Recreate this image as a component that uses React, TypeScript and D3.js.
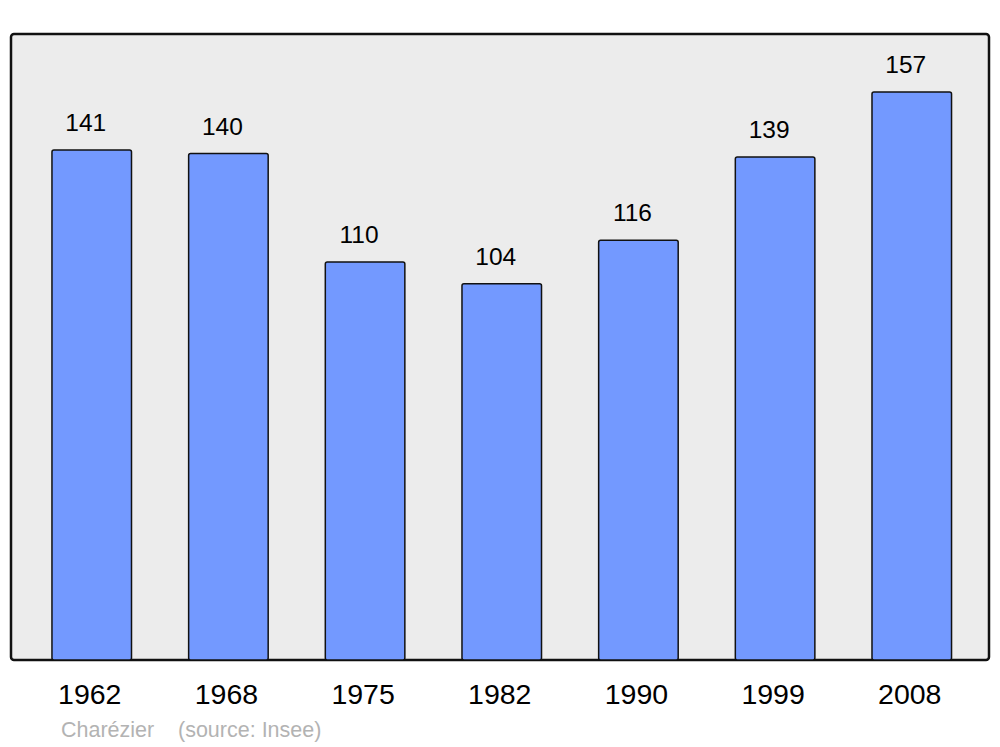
import React from "react";
import * as d3 from "d3";

const years = ["1962", "1968", "1975", "1982", "1990", "1999", "2008"];
const population = [141, 140, 110, 104, 116, 139, 157];
const commune = "Charézier";
const sourceText = "(source: Insee)";

export default function App() {
  const W = 1000, H = 747;
  const panel = { x: 11, y: 34, w: 978, h: 626 };
  const x = d3
    .scaleBand<string>()
    .domain(years)
    .range([23.4, 980.1])
    .paddingInner(0.418)
    .paddingOuter(0.209);
  const y = d3.scaleLinear().domain([0, 157]).range([660, 92]);
  const font = "'Liberation Sans', Arial, sans-serif";
  return (
    <svg width={W} height={H} style={{ position: "absolute", left: 0, top: 0 }} fontFamily={font}>
      <rect x={0} y={0} width={W} height={H} fill="#ffffff" />
      <rect
        x={panel.x}
        y={panel.y}
        width={panel.w}
        height={panel.h}
        rx={3}
        fill="#ececec"
        stroke="#111"
        strokeWidth={2.5}
      />
      {years.map((yr, i) => {
        const bx = x(yr)!;
        const bw = x.bandwidth();
        const top = y(population[i]);
        return (
          <g key={yr}>
            <rect
              x={bx}
              y={top}
              width={bw}
              height={y(0) - top}
              rx={2}
              fill="#7399ff"
              stroke="#111"
              strokeWidth={1.5}
            />
            <text x={bx + bw / 2 - 6} y={top - 19} textAnchor="middle" fontSize={24.5} fill="#000">
              {population[i]}
            </text>
            <text x={bx + bw / 2 - 2} y={704} textAnchor="middle" fontSize={28.5} fill="#000">
              {yr}
            </text>
          </g>
        );
      })}
      <text x={61} y={737} fontSize={21.5} fill="#b3b3b3">
        {commune}
      </text>
      <text x={178} y={737} fontSize={21.5} fill="#b3b3b3">
        {sourceText}
      </text>
    </svg>
  );
}
